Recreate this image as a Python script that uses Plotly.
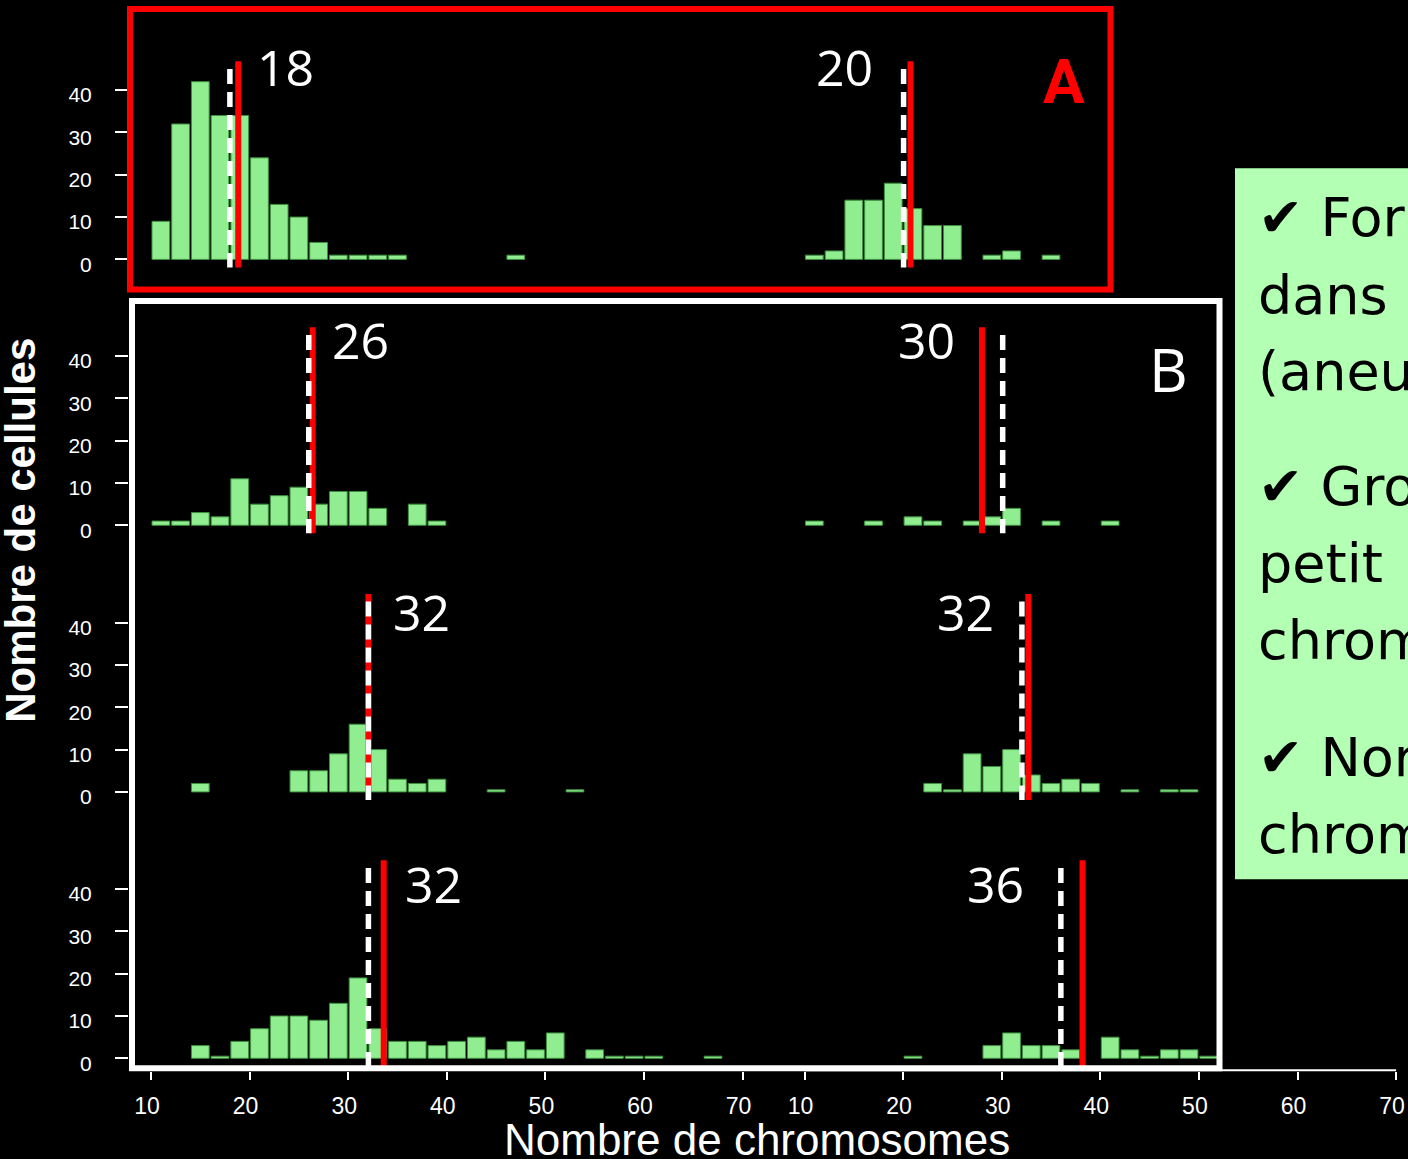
import plotly.graph_objects as go

W, H = 1408, 1159

# ---------------- data (bin start = chromosome count, bins 2 wide; values = number of cells)
A_left_bins = [10, 12, 14, 16, 18, 20, 22, 24, 26, 28, 30, 32, 34, 46]
A_left_counts = [9, 32, 42, 34, 34, 24, 13, 10, 4, 1, 1, 1, 1, 1]
A_right_bins = [10, 12, 14, 16, 18, 20, 22, 24, 28, 30, 34]
A_right_counts = [1, 2, 14, 14, 18, 12, 8, 8, 1, 2, 1]

B1_left_bins = [10, 12, 14, 16, 18, 20, 22, 24, 26, 28, 30, 32, 36, 38]
B1_left_counts = [1, 1, 3, 2, 11, 5, 7, 9, 5, 8, 8, 4, 5, 1]
B1_right_bins = [10, 16, 20, 22, 26, 28, 30, 34, 40]
B1_right_counts = [1, 1, 2, 1, 1, 2, 4, 1, 1]

B2_left_bins = [14, 24, 26, 28, 30, 32, 34, 36, 38, 44, 52]
B2_left_counts = [2, 5, 5, 9, 16, 10, 3, 2, 3, 0.5, 0.5]
B2_right_bins = [22, 24, 26, 28, 30, 32, 34, 36, 38, 42, 46, 48]
B2_right_counts = [2, 0.5, 9, 6, 10, 4, 2, 3, 2, 0.5, 0.5, 0.5]

B3_left_bins = [14, 16, 18, 20, 22, 24, 26, 28, 30, 32, 34, 36, 38, 40, 42, 44,
                46, 48, 50, 54, 56, 58, 60, 66]
B3_left_counts = [3, 0.5, 4, 7, 10, 10, 9, 13, 19, 7, 4, 4, 3, 4, 5, 2,
                  4, 2, 6, 2, 0.5, 0.5, 0.5, 0.5]
B3_right_bins = [20, 28, 30, 32, 34, 36, 40, 42, 44, 46, 48, 50]
B3_right_counts = [0.5, 3, 6, 3, 3, 2, 5, 2, 0.5, 2, 2, 0.5]

# reference (dashed white, labelled) and red line positions per panel
white_pos = [18.0, 20.05, 26.0, 30.1, 32.05, 32.05, 32.05, 36.0]
red_pos = [18.85, 20.75, 26.4, 28.0, 32.05, 32.7, 33.6, 38.2]
panel_labels = ["18", "20", "26", "30", "32", "32", "32", "36"]

x_ticks = [10, 20, 30, 40, 50, 60, 70]
y_ticks = [0, 10, 20, 30, 40]

panels = [
    (A_left_bins, A_left_counts), (A_right_bins, A_right_counts),
    (B1_left_bins, B1_left_counts), (B1_right_bins, B1_right_counts),
    (B2_left_bins, B2_left_counts), (B2_right_bins, B2_right_counts),
    (B3_left_bins, B3_left_counts), (B3_right_bins, B3_right_counts),
]

# ---------------- geometry (pixels)
PXX = 9.86      # px per chromosome
PXY = 4.225     # px per cell
SY = 1.005      # small vertical correction
baselines = [259, 524.5, 790.7, 1056.7]
col_dom = [(129, 775), (775, 1408)]
col_x10 = [151, 804.5]
TOP_PAD, BOT_PAD = 215, 12.3

def py(p):
    return 1 - p * SY / H

def px(p):
    return p / W

fig = go.Figure()
layout = dict(
    width=W, height=H, margin=dict(l=0, r=0, t=0, b=0, pad=0),
    paper_bgcolor="black", plot_bgcolor="black", showlegend=False,
)
shapes = []
annotations = []

GREEN = "#90EE90"
for k, (bins, counts) in enumerate(panels):
    r, c = divmod(k, 2)
    idx = k + 1
    xa = "x" if idx == 1 else f"x{idx}"
    ya = "y" if idx == 1 else f"y{idx}"
    fig.add_trace(go.Bar(
        x=[b + 1 for b in bins], y=counts, width=1.8,
        marker=dict(color=GREEN, line=dict(color="#3f8f3f", width=1)),
        xaxis=xa, yaxis=ya, hoverinfo="skip",
    ))
    d0, d1 = col_dom[c]
    x0 = 10 - (col_x10[c] - d0) / PXX
    x1 = 10 + (d1 - col_x10[c]) / PXX
    b = baselines[r]
    xaxis = dict(domain=[px(d0), px(d1)], range=[x0, x1], anchor=ya,
                 showgrid=False, zeroline=False, showline=False, fixedrange=True)
    if r == 3:
        xaxis.update(tickvals=x_ticks, ticktext=[str(t) for t in x_ticks],
                     ticks="outside", ticklen=8, tickwidth=2, tickcolor="white",
                     tickfont=dict(family="Liberation Sans, Arial", size=23, color="white"),
                     ticklabelstandoff=7, ticklabelshift=-4)
    else:
        xaxis.update(showticklabels=False, ticks="")
    yaxis = dict(domain=[py(b + BOT_PAD), py(b - TOP_PAD)],
                 range=[-BOT_PAD / PXY, TOP_PAD / PXY], anchor=xa,
                 showgrid=False, zeroline=False, showline=False, fixedrange=True)
    if c == 0:
        yaxis.update(tickvals=y_ticks, ticktext=[str(t) for t in y_ticks],
                     ticks="outside", ticklen=13, tickwidth=2, tickcolor="white",
                     tickfont=dict(family="Liberation Sans, Arial", size=21, color="white"),
                     ticklabelstandoff=19, ticklabelshift=5)
    else:
        yaxis.update(showticklabels=False, ticks="")
    layout["xaxis" if idx == 1 else f"xaxis{idx}"] = xaxis
    layout["yaxis" if idx == 1 else f"yaxis{idx}"] = yaxis

    # red solid line then white dashed line
    shapes.append(dict(type="line", xref=xa, yref=ya, x0=red_pos[k], x1=red_pos[k],
                       y0=46.8, y1=-1.9, line=dict(color="#ff0000", width=6)))
    shapes.append(dict(type="line", xref=xa, yref=ya, x0=white_pos[k], x1=white_pos[k],
                       y0=45.0, y1=-1.9,
                       line=dict(color="white", width=5.5, dash="15px,8px")))

# bottom axis line of right histogram (10 to 70)
shapes.append(dict(type="line", xref="x8", yref="paper", x0=10, x1=70,
                   y0=py(1068.5), y1=py(1068.5), line=dict(color="white", width=2)))

# frames
shapes.append(dict(type="rect", xref="paper", yref="paper",
                   x0=px(130), x1=px(1110.5), y0=py(9), y1=py(289),
                   line=dict(color="#ff0000", width=6)))
shapes.append(dict(type="rect", xref="paper", yref="paper",
                   x0=px(132), x1=px(1219.5), y0=py(300.5), y1=py(1066.5),
                   line=dict(color="white", width=6)))
# green note box (cut by the page edge)
shapes.append(dict(type="rect", xref="paper", yref="paper",
                   x0=px(1235), x1=px(1430), y0=py(168), y1=py(878),
                   fillcolor="#b3ffb3", line=dict(width=0), layer="below"))

# panel number labels
label_pos = [(285, 67), (844, 67), (360, 339), (927, 339),
             (421, 611), (965, 611), (433, 883), (995, 883)]
for (lx, ly), t in zip(label_pos, panel_labels):
    annotations.append(dict(text=t, x=px(lx), y=py(ly), xref="paper", yref="paper",
                            xanchor="center", yanchor="middle", showarrow=False,
                            font=dict(family="Open Sans", size=50, color="white")))

annotations.append(dict(text="<b>A</b>", x=px(1064), y=py(81), xref="paper", yref="paper",
                        xanchor="center", yanchor="middle", showarrow=False,
                        font=dict(family="Roboto", size=62, color="#ff0000")))
annotations.append(dict(text="B", x=px(1168), y=py(368), xref="paper", yref="paper",
                        xanchor="center", yanchor="middle", showarrow=False,
                        font=dict(family="Open Sans", size=60, color="white")))

# axis titles
annotations.append(dict(text="<b>Nombre de cellules</b>", x=px(21), y=py(530),
                        xref="paper", yref="paper", textangle=-90,
                        xanchor="center", yanchor="middle", showarrow=False,
                        font=dict(family="Liberation Sans, Arial", size=42, color="white")))
annotations.append(dict(text="Nombre de chromosomes", x=px(757), y=py(1138),
                        xref="paper", yref="paper",
                        xanchor="center", yanchor="middle", showarrow=False,
                        font=dict(family="Liberation Sans, Arial", size=44, color="white")))

# note text (cut off at the right edge in the original)
note_lines = ["✔ For", "dans", "(aneu", "✔ Gro", "petit", "chrom", "✔ Nor", "chrom"]
note_y = [217, 295, 371, 486, 563, 640, 756, 833]
for t, ny in zip(note_lines, note_y):
    annotations.append(dict(text=t, x=px(1256), y=py(ny), xref="paper", yref="paper",
                            xanchor="left", yanchor="middle", showarrow=False,
                            font=dict(family="DejaVu Sans", size=54, color="black")))

layout["shapes"] = shapes
layout["annotations"] = annotations
fig.update_layout(**layout)
fig.write_html(
    "out.html",
    config={"displayModeBar": False, "responsive": False},
    post_script=(
        "var gd=document.getElementById('{plot_id}');"
        "var wrap=gd.parentElement;"
        "wrap.style.fontSize='0px';wrap.style.lineHeight='0px';"
        "wrap.style.height='1159px';wrap.style.overflow='hidden';"
        "gd.style.display='block';"
        "document.documentElement.style.margin='0px';"
        "document.documentElement.style.height='1159px';"
        "document.documentElement.style.overflow='hidden';"
        "document.body.style.margin='0px';"
        "document.body.style.height='1159px';"
        "document.body.style.overflow='hidden';"
        "document.body.style.background='black';"
    ),
)
